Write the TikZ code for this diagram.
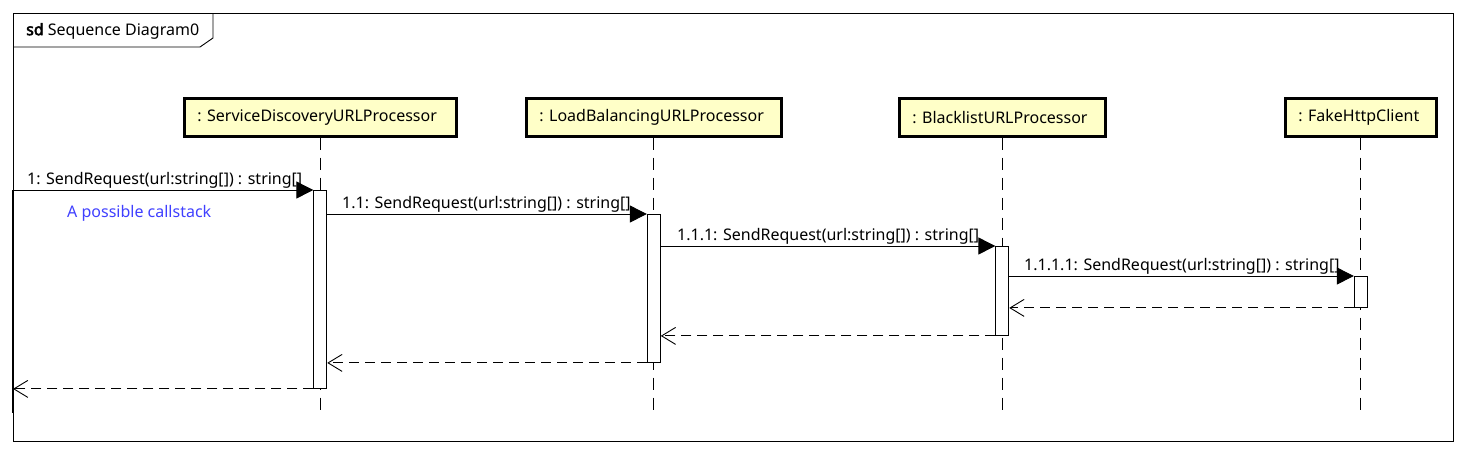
\documentclass[tikz,border=0pt]{standalone}
\usepackage{fontspec}
\setmainfont{Noto Sans}
\newfontfamily\sdbold{Noto Sans}[FakeBold=3]
\usetikzlibrary{arrows.meta,calc}
\newcommand{\headtext}[2]{\makebox[#1][l]{\hspace*{13pt}#2}}
\begin{document}
\begin{tikzpicture}[x=1pt,y=-1pt,
  every node/.style={font=\fontsize{16}{18}\selectfont},
  head/.style={draw, line width=2.6pt, fill={rgb,255:red,255;green,255;blue,200}, minimum height=38, inner xsep=0pt, anchor=north west},
  act/.style={draw, line width=0.9pt, fill=white, minimum width=13, inner sep=0pt, anchor=north},
  lifeline/.style={line width=0.9pt, dash pattern=on 12pt off 8pt},
  msg/.style={line width=0.9pt, -{Triangle[length=17pt,width=17pt]}},
  ret/.style={line width=0.9pt, dash pattern=on 10pt off 6pt, -{Straight Barb[length=14pt,width=17pt,line width=0.9pt]}},
  lbl/.style={anchor=south west, inner sep=1pt}]
\useasboundingbox (0,0) rectangle (1468,456);
\fill[white] (0,0) rectangle (1468,456);
% frame
\node[draw, line width=0.9pt, minimum width=1440, minimum height=428, anchor=north west, inner sep=0pt] (frame) at (13,13) {};
\coordinate (tagR) at (213,38);
\coordinate (tagB) at (200,47);
\draw[line width=0.9pt] (frame.north west -| tagR) -- (tagR) -- (tagB) -- (frame.west |- tagB);
\node[anchor=west, inner sep=0pt] (title) at (26,31) {{\sdbold sd} Sequence Diagram0};
% heads
\node[head] (h1) at (183,97) {\headtext{272pt}{: ServiceDiscoveryURLProcessor}};
\node[head] (h2) at (525,97) {\headtext{255pt}{: LoadBalancingURLProcessor}};
\node[head] (h3) at (898,97) {\headtext{206pt}{: BlacklistURLProcessor}};
\node[head] (h4) at (1284,97) {\headtext{151pt}{: FakeHttpClient}};
% lifelines
\coordinate (endy) at (0,415);
\draw[lifeline] (h1.south) -- (h1.south |- endy);
\draw[lifeline] (h2.south) -- (h2.south |- endy);
\draw[lifeline] (h3.south) -- (h3.south |- endy);
\draw[lifeline] (h4.south) -- (h4.south |- endy);
% activations
\node[act, minimum height=198] (a1) at (h1.south |- 0,190) {};
\node[act, minimum height=148] (a2) at (h2.south |- 0,214) {};
\node[act, minimum height=89] (a3) at (h3.south |- 0,246) {};
\node[act, minimum height=31] (a4) at (h4.south |- 0,276) {};
% gate line
\coordinate (g1) at (13,190);
\coordinate (g2) at (13,413);
\draw[line width=2pt] (g1) -- (g2);
% calls
\draw[msg] (g1) -- (a1.north west);
\node[lbl] (m1) at (26,190) {1: SendRequest(url:string[]) : string[]};
\draw[msg] (a2.north west -| a1.east) -- (a2.north west);
\node[lbl] (m2) at (341,214) {1.1: SendRequest(url:string[]) : string[]};
\draw[msg] (a3.north west -| a2.east) -- (a3.north west);
\node[lbl] (m3) at (676,246) {1.1.1: SendRequest(url:string[]) : string[]};
\draw[msg] (a4.north west -| a3.east) -- (a4.north west);
\node[lbl] (m4) at (1023,276) {1.1.1.1: SendRequest(url:string[]) : string[]};
% returns
\draw[ret] (a4.south west) -- (a4.south west -| a3.east);
\draw[ret] (a3.south west) -- (a3.south west -| a2.east);
\draw[ret] (a2.south west) -- (a2.south west -| a1.east);
\draw[ret] (a1.south west) -- (a1.south west -| g1);
% note
\node[anchor=west, text={rgb,255:red,64;green,64;blue,255}, inner sep=0pt] (note) at (67,213) {A possible callstack};
\end{tikzpicture}
\end{document}
